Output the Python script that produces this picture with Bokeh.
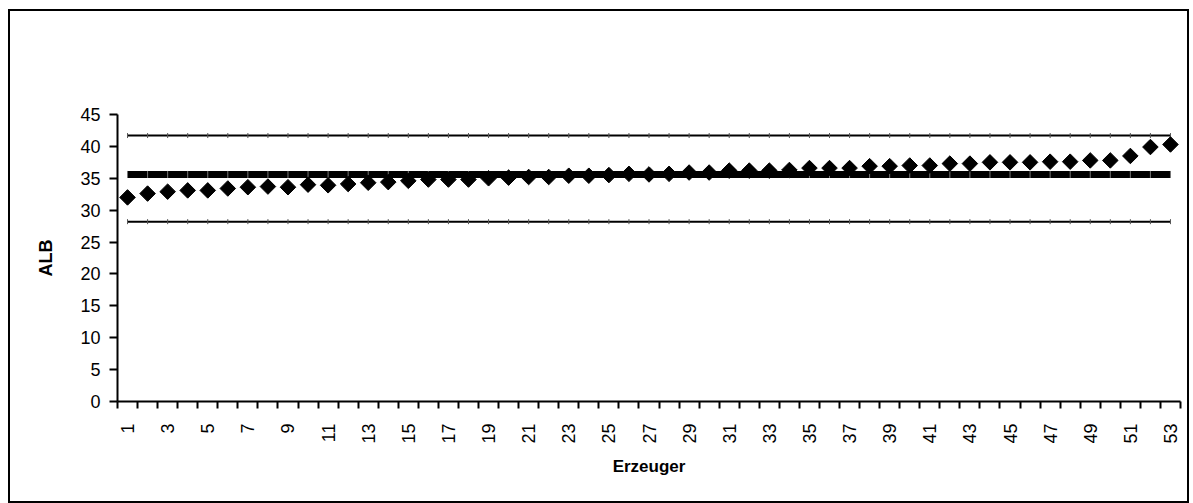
import math
from bokeh.plotting import figure
from bokeh.models import FixedTicker, Range1d
from bokeh.embed import file_html
from bokeh.resources import INLINE

# Data
erzeuger = list(range(1, 54))
alb = [32.0, 32.6, 32.9, 33.1, 33.1, 33.4, 33.6, 33.7, 33.6, 34.0,
       33.9, 34.1, 34.3, 34.4, 34.6, 34.8, 34.8, 34.8, 35.0, 35.1,
       35.2, 35.2, 35.4, 35.4, 35.5, 35.7, 35.6, 35.7, 35.9, 35.9,
       36.2, 36.2, 36.2, 36.3, 36.6, 36.6, 36.6, 36.9, 36.9, 37.0,
       37.0, 37.3, 37.3, 37.5, 37.5, 37.5, 37.6, 37.6, 37.8, 37.8,
       38.5, 39.9, 40.3]
mean_value = 35.6
upper_limit = 41.7
lower_limit = 28.2
y_ticks = [0, 5, 10, 15, 20, 25, 30, 35, 40, 45]
x_labels = [str(i) for i in erzeuger]

FONT = "Liberation Sans"

p = figure(frame_width=1063, frame_height=287,
           min_border_left=107, min_border_right=7,
           min_border_top=103, min_border_bottom=100,
           x_range=Range1d(0.5, 53.5), y_range=Range1d(0, 45),
           output_backend="svg", toolbar_location=None, tools="")
p.styles = {"border": "2px solid black"}
p.margin = (9, 0, 0, 8)
p.outline_line_color = None
p.xgrid.visible = False
p.ygrid.visible = False
p.background_fill_color = "white"
p.border_fill_color = "white"

# Y axis
p.yaxis.ticker = FixedTicker(ticks=y_ticks)
p.yaxis.axis_line_width = 2
p.yaxis.axis_line_color = "black"
p.yaxis.major_tick_in = 0
p.yaxis.major_tick_out = 8
p.yaxis.major_tick_line_width = 2
p.yaxis.minor_tick_line_color = None
p.yaxis.major_label_text_font = FONT
p.yaxis.major_label_text_font_size = "18px"
p.yaxis.major_label_text_color = "black"
p.yaxis.major_label_standoff = 9
p.yaxis.axis_label = "ALB"
p.yaxis.axis_label_text_font = FONT
p.yaxis.axis_label_text_font_size = "18px"
p.yaxis.axis_label_text_font_style = "bold"
p.yaxis.axis_label_text_color = "black"
p.yaxis.axis_label_standoff = 21

# X axis: labels at odd categories, ticks at category boundaries
odd = [i for i in erzeuger if i % 2 == 1]
bounds = [i - 0.5 for i in erzeuger] + [erzeuger[-1] + 0.5]
p.xaxis.ticker = FixedTicker(ticks=odd, minor_ticks=bounds)
p.xaxis.major_label_overrides = {i: x_labels[i - 1] for i in odd}
p.xaxis.axis_line_width = 2
p.xaxis.axis_line_color = "black"
p.xaxis.major_tick_line_color = None
p.xaxis.major_tick_in = 0
p.xaxis.major_tick_out = 7
p.xaxis.minor_tick_in = 0
p.xaxis.minor_tick_out = 7
p.xaxis.minor_tick_line_width = 2
p.xaxis.minor_tick_line_color = "black"
p.xaxis.major_label_orientation = math.pi / 2
p.xaxis.major_label_text_font = FONT
p.xaxis.major_label_text_font_size = "18px"
p.xaxis.major_label_text_color = "black"
p.xaxis.major_label_standoff = 15
p.xaxis.axis_label = "Erzeuger"
p.xaxis.axis_label_text_font = FONT
p.xaxis.axis_label_text_font_size = "17px"
p.xaxis.axis_label_text_font_style = "bold"
p.xaxis.axis_label_text_color = "black"
p.xaxis.axis_label_standoff = 10

x0, x1 = erzeuger[0], erzeuger[-1]

# Limit lines
for lim in (upper_limit, lower_limit):
    p.line([x0, x1], [lim, lim], line_color="black", line_width=2)
    p.scatter(erzeuger, [lim] * len(erzeuger), marker="dash", angle=math.pi / 2,
              size=5, line_color="#555555", line_width=1)

# Mean: thick line with light separators at each category
p.line([x0, x1], [mean_value, mean_value], line_color="black", line_width=7,
       line_cap="butt")
p.scatter(erzeuger, [mean_value] * len(erzeuger), marker="dash", angle=math.pi / 2,
          size=7, line_color="#777777", line_width=1)

# Data points: diamonds
p.scatter(erzeuger, alb, marker="square", angle=math.pi / 4, size=11,
          fill_color="black", line_color="black")

open("out.html", "w").write(file_html(p, INLINE))
